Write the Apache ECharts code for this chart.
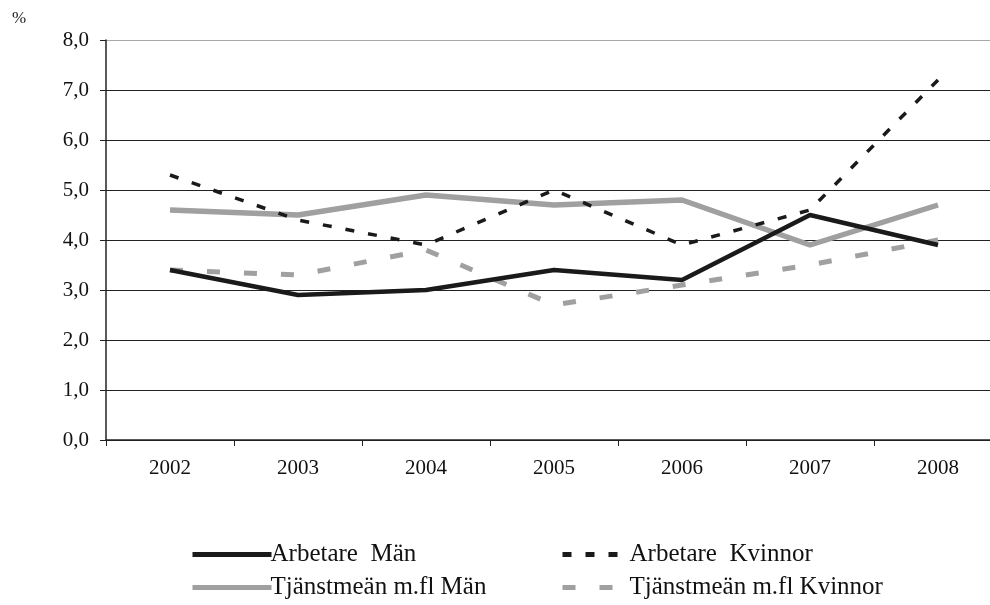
<!DOCTYPE html>
<html><head><meta charset="utf-8">
<script src="https://cdn.jsdelivr.net/npm/echarts@6/dist/echarts.min.js"></script>
<style>html,body{margin:0;padding:0;background:#fff;overflow:hidden;width:990px;height:605px}#c{width:1010px;height:605px}</style>
</head><body><div id="c"></div>
<script>
const years = ['2002','2003','2004','2005','2006','2007','2008'];
const arbetareMan = [3.4, 2.9, 3.0, 3.4, 3.2, 4.5, 3.9];
const arbetareKvinnor = [5.3, 4.4, 3.9, 5.0, 3.9, 4.6, 7.2];
const tjanstemanMan = [4.6, 4.5, 4.9, 4.7, 4.8, 3.9, 4.7];
const tjanstemanKvinnor = [3.4, 3.3, 3.8, 2.7, 3.1, 3.5, 4.0];
const yTicks = [0,1,2,3,4,5,6,7,8];
const names = ['Arbetare  Män','Arbetare  Kvinnor','Tjänstmeän m.fl Män','Tjänstmeän m.fl Kvinnor'];

const FONT = 'Liberation Serif';
const chart = echarts.init(document.getElementById('c'), null, {renderer:'canvas'});
const splitColors = yTicks.map((v,i)=> i===yTicks.length-1 ? '#aaaaaa' : '#222222');
function legend(name, left, top, w, lw){
  return {data:[name], left:left, top:top, itemWidth:w, itemHeight:14, itemGap:0,
    itemStyle:{color:'transparent', borderWidth:0, opacity:0},
    lineStyle:{width:lw},
    textStyle:{fontFamily:FONT, fontSize:25, color:'#111', padding:[0,0,0,-6]}, selectedMode:false};
}
chart.setOption({
  animation:false,
  textStyle:{fontFamily:FONT},
  grid:{left:106, top:40, width:896, height:400, containLabel:false},
  graphic:[{type:'text', left:12, top:10, style:{text:'%', font:'17px "Liberation Serif"', fill:'#222'}}],
  legend:[
    legend(names[0],185,537,79,5),
    legend(names[1],555,537,68,5),
    legend(names[2],185,570,79,5),
    legend(names[3],555,570,68,5)
  ],
  xAxis:{type:'category', data:years, boundaryGap:true,
    axisLine:{lineStyle:{color:'#222', width:1.5}},
    axisTick:{show:true, length:6, lineStyle:{color:'#222'}},
    axisLabel:{color:'#111', fontSize:21, fontFamily:FONT, margin:18}},
  yAxis:{type:'value', min:0, max:8, interval:1,
    axisLine:{show:true, lineStyle:{color:'#222', width:1.5}},
    axisTick:{show:true, length:6, lineStyle:{color:'#222'}},
    axisLabel:{color:'#111', fontSize:21, fontFamily:FONT, margin:17,
      formatter:v=>v.toFixed(1).replace('.',',')},
    splitLine:{show:true, lineStyle:{color:splitColors, width:1}}},
  series:[
    {name:names[0], type:'line', data:arbetareMan, symbol:'none', z:4,
      lineStyle:{color:'#1a1a1a', width:4.5}, itemStyle:{color:'#1a1a1a'}},
    {name:names[1], type:'line', data:arbetareKvinnor, symbol:'none', z:3,
      lineStyle:{color:'#1a1a1a', width:3.5, type:[9,14]}, itemStyle:{color:'#1a1a1a'}},
    {name:names[2], type:'line', data:tjanstemanMan, symbol:'none', z:2,
      lineStyle:{color:'#a0a0a0', width:5.5}, itemStyle:{color:'#a0a0a0'}},
    {name:names[3], type:'line', data:tjanstemanKvinnor, symbol:'none', z:2,
      lineStyle:{color:'#a0a0a0', width:5, type:[13,24]}, itemStyle:{color:'#a0a0a0'}}
  ]
});
</script></body></html>
